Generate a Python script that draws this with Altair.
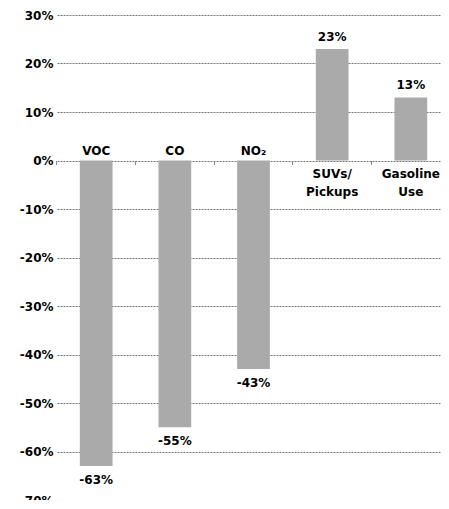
import altair as alt
import pandas as pd

categories = ["VOC", "CO", "NO₂", "SUVs/\nPickups", "Gasoline\nUse"]
values = [-63, -55, -43, 23, 13]
y_ticks = [-70, -60, -50, -40, -30, -20, -10, 0, 10, 20, 30]

df = pd.DataFrame({"cat": categories, "value": values})
df["label"] = [f"{v}%" for v in values]

FONT = "DejaVu Sans"
W, H = 384, 485
ZERO_FROM_BOTTOM = H * 70 / 100

x_enc = alt.X(
    "cat:N",
    sort=categories,
    scale=alt.Scale(range=[0, 393], paddingInner=0.584, paddingOuter=0.29),
    axis=alt.Axis(
        orient="bottom", offset=-ZERO_FROM_BOTTOM, domain=False, labels=False, ticks=True,
        tickSize=4, tickColor="#888888", bandPosition=-0.7, title=None, grid=False,
    ),
)
y_scale = alt.Scale(domain=[-70, 30], nice=False, zero=False)
y_axis = alt.Axis(
    values=y_ticks, labelExpr="datum.value + '%'", title=None, ticks=False, domain=False,
    grid=True, gridColor="#777777", gridDash=[2, 1], gridWidth=1,
    labelFont=FONT, labelFontWeight="bold", labelFontSize=12, labelColor="black",
    labelPadding=4, labelFlush=False, labelOverlap=False,
)

base = alt.Chart(df)

bars = base.mark_bar(color="#aaaaaa").encode(
    x=x_enc,
    y=alt.Y("value:Q", scale=y_scale, axis=y_axis),
)

txt = dict(font=FONT, fontWeight="bold", fontSize=12, color="black", lineBreak="\n")

cat_neg = base.transform_filter("datum.value < 0").mark_text(
    baseline="alphabetic", dy=-6, **txt
).encode(x=x_enc, y=alt.datum(0), text="cat:N")

cat_pos = base.transform_filter("datum.value > 0").mark_text(
    baseline="top", dy=8, lineHeight=18, **txt
).encode(x=x_enc, y=alt.datum(0), text="cat:N")

val_neg = base.transform_filter("datum.value < 0").mark_text(
    baseline="top", dy=9, **txt
).encode(x=x_enc, y=alt.Y("value:Q", scale=y_scale), text="label:N")

val_pos = base.transform_filter("datum.value > 0").mark_text(
    baseline="alphabetic", dy=-8, **txt
).encode(x=x_enc, y=alt.Y("value:Q", scale=y_scale), text="label:N")

chart = alt.layer(bars, cat_neg, cat_pos, val_neg, val_pos).properties(
    width=W, height=H,
    background="white",
    padding={"left": 49, "top": 7, "right": 0, "bottom": 0},
    autosize=alt.AutoSizeParams(type="none"),
).configure_view(stroke="transparent", strokeWidth=0)

chart.save("out.html", embed_options={"renderer": "svg", "actions": False})
